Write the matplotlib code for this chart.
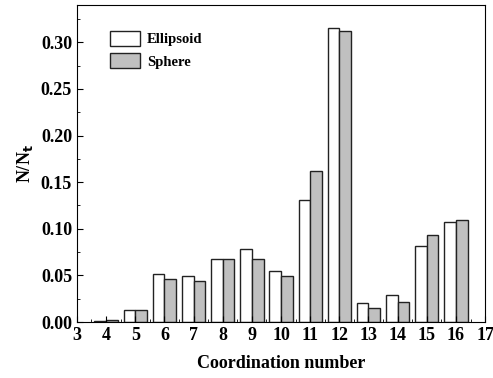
import numpy as np
import matplotlib
matplotlib.use("Agg")
import matplotlib.pyplot as plt
from matplotlib.ticker import MultipleLocator

plt.rcParams['font.family'] = ['Liberation Serif', 'DejaVu Serif']
plt.rcParams['font.weight'] = 'bold'

coord = [4, 5, 6, 7, 8, 9, 10, 11, 12, 13, 14, 15, 16]
ellipsoid = [0.001, 0.013, 0.052, 0.049, 0.068, 0.078, 0.055, 0.131, 0.315, 0.020, 0.029, 0.082, 0.107]
sphere = [0.002, 0.013, 0.046, 0.044, 0.068, 0.068, 0.049, 0.162, 0.312, 0.015, 0.022, 0.093, 0.109]

fig = plt.figure(figsize=(4.93, 3.78), dpi=100)
ax = fig.add_axes([0.156, 0.148, 0.828, 0.839])

x = np.array(coord)
w = 0.4
ax.bar(x - w/2, ellipsoid, w, color='white', edgecolor='#222222', linewidth=1.0, label='Ellipsoid')
ax.bar(x + w/2, sphere, w, color='#c0c0c0', edgecolor='#222222', linewidth=1.0, label='Sphere')

ax.set_xlim(3, 17)
ax.set_ylim(0, 0.34)
ax.set_xticks(range(3, 18))
ax.set_yticks(np.arange(0, 0.31, 0.05))
ax.yaxis.set_major_formatter(matplotlib.ticker.FormatStrFormatter('%.2f'))
ax.yaxis.set_minor_locator(MultipleLocator(0.025))
ax.xaxis.set_minor_locator(MultipleLocator(0.5))
ax.tick_params(direction='in', which='both', labelsize=13)
ax.tick_params(which='major', length=4)
ax.tick_params(which='minor', length=2)
for lbl in ax.get_xticklabels() + ax.get_yticklabels():
    lbl.set_fontweight('bold')

ax.set_xlabel('Coordination number', fontsize=13, fontweight='bold', labelpad=8)
ax.set_ylabel('N/N$_\\mathbf{t}$', fontsize=13, fontweight='bold')

ax.legend(loc='upper left', bbox_to_anchor=(0.05, 0.96), frameon=False,
          handlelength=2.0, handleheight=1.2, handletextpad=0.5,
          prop={'weight': 'bold', 'size': 10.5})

fig.savefig('out.png', dpi=100)
